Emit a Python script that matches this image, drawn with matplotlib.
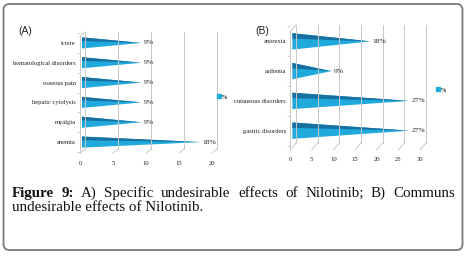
import matplotlib

matplotlib.use("Agg")
import matplotlib.pyplot as plt
from matplotlib.patches import FancyBboxPatch, Patch, Polygon

W, H, DPI = 469, 257, 100

# Panel A: specific undesirable effects (bottom -> top)
a_labels = ["anemia", "myalgia", "hepatic cytolysis", "osseous pain",
            "hematological disorders", "ictere"]
a_values = [18, 9, 9, 9, 9, 9]
a_ticks = [0, 5, 10, 15, 20]

# Panel B: common undesirable effects (bottom -> top)
b_labels = ["gastric disorders", "cutaneous disorders", "asthenia", "anorexia"]
b_values = [27, 27, 9, 18]
b_ticks = [0, 5, 10, 15, 20, 25, 30]

caption_1 = "Figure 9: A) Specific undesirable effects of Nilotinib; B) Communs"
caption_2 = "undesirable effects of Nilotinib."

LIGHT = "#1fa9dc"
DARK = "#17709f"
GRID = "#c8c8c8"
TEXT = "#222222"
SERIF = ["Liberation Serif", "DejaVu Serif"]

fig = plt.figure(figsize=(W / DPI, H / DPI), dpi=DPI)


def panel(box, labels, values, ticks, depth, bar_h, legend_xy, tick_pad):
    # box = plot area in pixels: left, top, right, bottom (front floor)
    x0, y0, x1, y1 = box
    n = len(labels)
    lo, hi = -0.55 - (0.1 if n == 4 else 0), n - 0.45
    ax = fig.add_axes([x0 / W, 1 - y1 / H, (x1 - x0) / W, (y1 - y0) / H])
    xmax = ticks[-1]
    ax.set_xlim(0, xmax)
    ax.set_ylim(lo, hi)
    dx = depth[0] * xmax / (x1 - x0)
    dy = depth[1] * (hi - lo) / (y1 - y0)

    # back wall grid + floor diagonals
    for v in ticks:
        ax.plot([v + dx, v + dx], [lo + dy, hi], color=GRID, lw=0.7, clip_on=False)
        ax.plot([v, v + dx], [lo, lo + dy], color=GRID, lw=0.7, clip_on=False)
    ax.plot([0, 0], [lo, hi - dy], color=GRID, lw=0.7, clip_on=False)
    ax.plot([0, dx], [hi - dy, hi], color=GRID, lw=0.7, clip_on=False)

    sx = dx * 0.4
    for i, v in enumerate(values):
        h = bar_h
        ax.add_patch(Polygon([(sx, i - h / 2), (sx, i + h / 2), (v + sx, i)],
                             closed=True, fc=LIGHT, ec="none"))
        ax.add_patch(Polygon([(sx, i + h / 2), (sx, i + h / 2 - h / 3), (v + sx, i)],
                             closed=True, fc=DARK, ec="none"))
        ax.text(v + sx + 0.3 * xmax / 20, i, f"{v}%", ha="left", va="center",
                fontsize=5.4, family=SERIF, color=TEXT)

    ax.set_xticks(ticks)
    ax.set_xticklabels([str(t) for t in ticks], fontsize=4.8, family=SERIF, color=TEXT)
    ax.set_yticks(range(n))
    ax.set_yticklabels(labels, fontsize=4.7, family=SERIF, color=TEXT)
    ax.set_yticks([i + 0.5 for i in range(-1, n)], minor=True)
    ax.tick_params(axis="y", which="major", length=0, pad=3)
    ax.tick_params(axis="x", which="major", length=0, pad=tick_pad)
    ax.tick_params(axis="y", which="minor", length=2, color=GRID, width=0.6)
    for s in ax.spines.values():
        s.set_visible(False)
    ax.patch.set_alpha(0)

    fig.legend(handles=[Patch(color=LIGHT)], labels=["%"], loc="center left",
               bbox_to_anchor=(legend_xy[0] / W, 1 - legend_xy[1] / H),
               frameon=False, handlelength=0.6, handleheight=0.6,
               handletextpad=0.2, borderpad=0, borderaxespad=0,
               prop={"family": SERIF, "size": 4.5})
    return ax


panel((80, 32, 212, 153), a_labels, a_values, a_ticks, (5, 4), 0.56, (217, 97), 6)
panel((290, 25, 420, 150), b_labels, b_values, b_ticks, (6, 7), 0.55, (436, 90), 5)

fig.text(18 / W, 1 - 34 / H, "(A)", fontsize=7.5, family="Liberation Sans", color=TEXT)
fig.text(255 / W, 1 - 34 / H, "(B)", fontsize=7.5, family="Liberation Sans", color=TEXT)

# outer rounded frame
fig.patches.append(FancyBboxPatch((3.5 / DPI, 7 / DPI), 459 / DPI, 246 / DPI,
                                  boxstyle="round,pad=0,rounding_size=0.06",
                                  transform=fig.dpi_scale_trans, fc="none",
                                  ec="#7a7a7a", lw=1.3))

# caption: first line justified between x=12 and x=455
fig.canvas.draw()
r = fig.canvas.get_renderer()
words = caption_1.split()
texts = []
for k, w in enumerate(words):
    texts.append(fig.text(0, 1 - 197 / H, w, fontsize=10.8, family=SERIF,
                          fontweight="bold" if k < 2 else "normal",
                          va="baseline", color="#111111"))
widths = [t.get_window_extent(r).width for t in texts]
gap = (455 - 12 - sum(widths)) / (len(words) - 1)
x = 12
for t, w in zip(texts, widths):
    t.set_x(x / W)
    x += w + gap
fig.text(12 / W, 1 - 211 / H, caption_2, fontsize=10.8, family=SERIF,
         va="baseline", color="#111111")

fig.savefig("out.png", dpi=DPI, facecolor="white")
